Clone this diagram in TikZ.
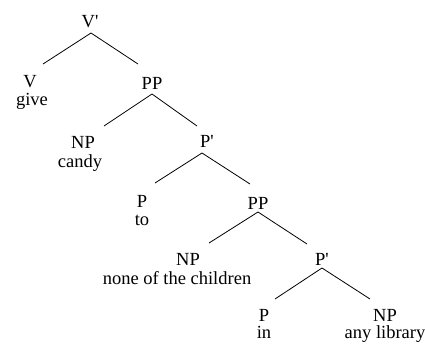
\documentclass[tikz,border=0pt]{standalone}
\usepackage{fontspec}
\newfontfamily\treefont{Liberation Serif}
\begin{document}
\begin{tikzpicture}[x=1pt,y=-1pt,
  cat/.style={inner sep=0pt, anchor=base, font=\treefont\fontsize{18.5}{20}\selectfont},
  word/.style={cat},
  branch/.style={line width=0.8pt, draw=black}]
\useasboundingbox (0,0) rectangle (425,343);
% category labels
\node[cat] (vbar) at (90,27) {V'};
\node[cat] (v) at (30,87) {V};
\node[word] (give) at (32,105) {give};
\node[cat] (pp1) at (152,89) {PP};
\node[cat] (np1) at (83,148) {NP};
\node[word] (candy) at (80,167) {candy};
\node[cat] (pb1) at (207,147) {P'};
\node[cat] (p1) at (142,207) {P};
\node[word] (to) at (142,225) {to};
\node[cat] (pp2) at (258,209) {PP};
\node[cat] (np2) at (188,265) {NP};
\node[word] (none) at (177,284) {none of the children};
\node[cat] (pb2) at (322,265) {P'};
\node[cat] (p2) at (264,321) {P};
\node[word] (in) at (264,338) {in};
\node[cat] (np3) at (385,321) {NP};
\node[word] (lib) at (385,338) {any library};
% attachment points
\coordinate (vbar-a) at (91,33);
\coordinate (v-t) at (43,64);
\coordinate (pp1-t) at (138,64);
\coordinate (pp1-a) at (152,94);
\coordinate (np1-t) at (104,126);
\coordinate (pb1-t) at (197,126);
\coordinate (pb1-a) at (202,153);
\coordinate (p1-t) at (155,183);
\coordinate (pp2-t) at (250,184);
\coordinate (pp2-a) at (258,212);
\coordinate (np2-t) at (209,243);
\coordinate (pb2-t) at (307,244);
\coordinate (pb2-a) at (322,268);
\coordinate (p2-t) at (275,299);
\coordinate (np3-t) at (370,299);
% branches
\draw[branch] (vbar-a) -- (v-t);
\draw[branch] (vbar-a) -- (pp1-t);
\draw[branch] (pp1-a) -- (np1-t);
\draw[branch] (pp1-a) -- (pb1-t);
\draw[branch] (pb1-a) -- (p1-t);
\draw[branch] (pb1-a) -- (pp2-t);
\draw[branch] (pp2-a) -- (np2-t);
\draw[branch] (pp2-a) -- (pb2-t);
\draw[branch] (pb2-a) -- (p2-t);
\draw[branch] (pb2-a) -- (np3-t);
\end{tikzpicture}
\end{document}
